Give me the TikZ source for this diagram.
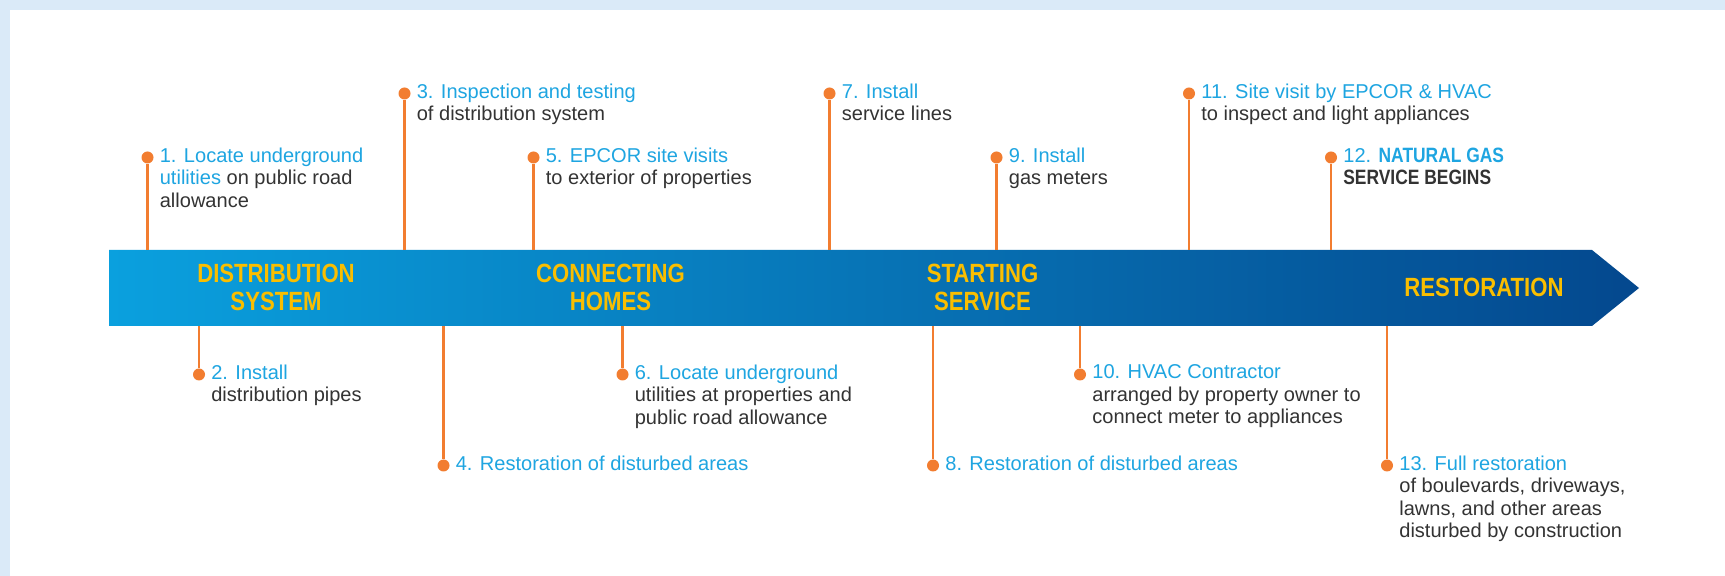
\documentclass[tikz,border=0pt]{standalone}
\usepackage{fontspec}
\setmainfont{Liberation Sans}
\newfontfamily\condfont[FakeStretch=0.84]{Liberation Sans}
\usetikzlibrary{positioning}
\definecolor{bgblue}{RGB}{218,234,248}
\definecolor{stepblue}{RGB}{30,165,225}
\definecolor{darktext}{RGB}{51,51,51}
\definecolor{stemorange}{RGB}{242,125,48}
\definecolor{baryellow}{RGB}{250,190,0}
\definecolor{barl}{RGB}{10,160,222}
\definecolor{barm}{RGB}{0,110,180}
\definecolor{barr}{RGB}{4,72,142}
\tikzset{
    stepdot/.style = {circle, fill=stemorange, inner sep=0pt, minimum size=0.24cm},
    stemline/.style = {draw=stemorange, line width=1.6pt},
    steptext/.style = {anchor=north west, inner sep=0pt, align=left, text=darktext, font=\fontsize{11.4}{12.8}\selectfont, xshift=0.24cm, yshift=0.2cm},
    bartext/.style = {align=center, text=baryellow, font=\condfont\bfseries\fontsize{15}{15.9}\selectfont},
}
\newcommand{\bl}[1]{{\color{stepblue}#1}}
\newcommand{\bigword}[1]{{\condfont\bfseries\fontsize{11.8}{12.8}\selectfont #1}} % step 12

\begin{document}
\begin{tikzpicture}
\useasboundingbox (0,0) rectangle (34.5,11.52);
\fill[bgblue] (0,0) rectangle (34.5,11.52);
\fill[white] (0.2,0) rectangle (34.5,11.32);
% timeline arrow
\shade[left color=barl, middle color=barm, right color=barr]
  (2.18,5.0) -- (2.18,6.52) -- (31.84,6.52) -- (32.78,5.76) -- (31.84,5.0) -- cycle;
\node[bartext] at ( 5.52, 5.77) (dist) {DISTRIBUTION\\SYSTEM};
\node[bartext] at (12.21, 5.77) (conn) {CONNECTING\\HOMES};
\node[bartext] at (19.65, 5.77) (start) {STARTING\\SERVICE};
\node[bartext] at (29.68, 5.77) (rest) {RESTORATION};

% points on the bar
\coordinate (s1)  at ( 2.95, 6.52);
\coordinate (s3)  at ( 8.09, 6.52);
\coordinate (s5)  at (10.67, 6.52);
\coordinate (s7)  at (16.59, 6.52);
\coordinate (s9)  at (19.93, 6.52);
\coordinate (s11) at (23.78, 6.52);
\coordinate (s12) at (26.62, 6.52);
\coordinate (s2)  at ( 3.98, 5.0);
\coordinate (s4)  at ( 8.87, 5.0);
\coordinate (s6)  at (12.45, 5.0);
\coordinate (s8)  at (18.66, 5.0);
\coordinate (s10) at (21.60, 5.0);
\coordinate (s13) at (27.74, 5.0);

\node[stepdot] at ( 2.95, 8.37) (d1)  {};
\node[stepdot] at ( 8.09, 9.65) (d3)  {};
\node[stepdot] at (10.67, 8.37) (d5)  {};
\node[stepdot] at (16.59, 9.65) (d7)  {};
\node[stepdot] at (19.93, 8.37) (d9)  {};
\node[stepdot] at (23.78, 9.65) (d11) {};
\node[stepdot] at (26.62, 8.37) (d12) {};
\node[stepdot] at ( 3.98, 4.03) (d2)  {};
\node[stepdot] at ( 8.87, 2.21) (d4)  {};
\node[stepdot] at (12.45, 4.03) (d6)  {};
\node[stepdot] at (18.66, 2.21) (d8)  {};
\node[stepdot] at (21.60, 4.03) (d10) {};
\node[stepdot] at (27.74, 2.21) (d13) {};
%
\draw[stemline] (s1)  edge (d1);
\draw[stemline] (s3)  edge (d3);
\draw[stemline] (s5)  edge (d5);
\draw[stemline] (s7)  edge (d7);
\draw[stemline] (s9)  edge (d9);
\draw[stemline] (s11) edge (d11);
\draw[stemline] (s12) edge (d12);
\draw[stemline] (s2)  edge (d2);
\draw[stemline] (s4)  edge (d4);
\draw[stemline] (s6)  edge (d6);
\draw[stemline] (s8)  edge (d8);
\draw[stemline] (s10) edge (d10);
\draw[stemline] (s13) edge (d13);

\node[steptext] at (d1)  (t1)  {\bl{1. Locate underground}\\\bl{utilities} on public road\\allowance};
\node[steptext] at (d3)  (t3)  {\bl{3. Inspection and testing}\\of distribution system};
\node[steptext] at (d5)  (t5)  {\bl{5. EPCOR site visits}\\to exterior of properties};
\node[steptext] at (d7)  (t7)  {\bl{7. Install}\\service lines};
\node[steptext] at (d9)  (t9)  {\bl{9. Install}\\gas meters};
\node[steptext] at (d11) (t11) {\bl{11. Site visit by EPCOR \& HVAC}\\to inspect and light appliances};
\node[steptext] at (d12) (t12) {\bl{12. \bigword{NATURAL GAS}}\\\bigword{SERVICE BEGINS}};
\node[steptext] at (d2)  (t2)  {\bl{2. Install}\\distribution pipes};
\node[steptext] at (d4)  (t4)  {\bl{4. Restoration of disturbed areas}};
\node[steptext] at (d6)  (t6)  {\bl{6. Locate underground}\\utilities at properties and\\public road allowance};
\node[steptext] at (d8)  (t8)  {\bl{8. Restoration of disturbed areas}};
\node[steptext] at (d10) (t10) {\bl{10. HVAC Contractor}\\arranged by property owner to\\connect meter to appliances};
\node[steptext] at (d13) (t13) {\bl{13. Full restoration}\\of boulevards, driveways,\\lawns, and other areas\\disturbed by construction};
\end{tikzpicture}
\end{document}
